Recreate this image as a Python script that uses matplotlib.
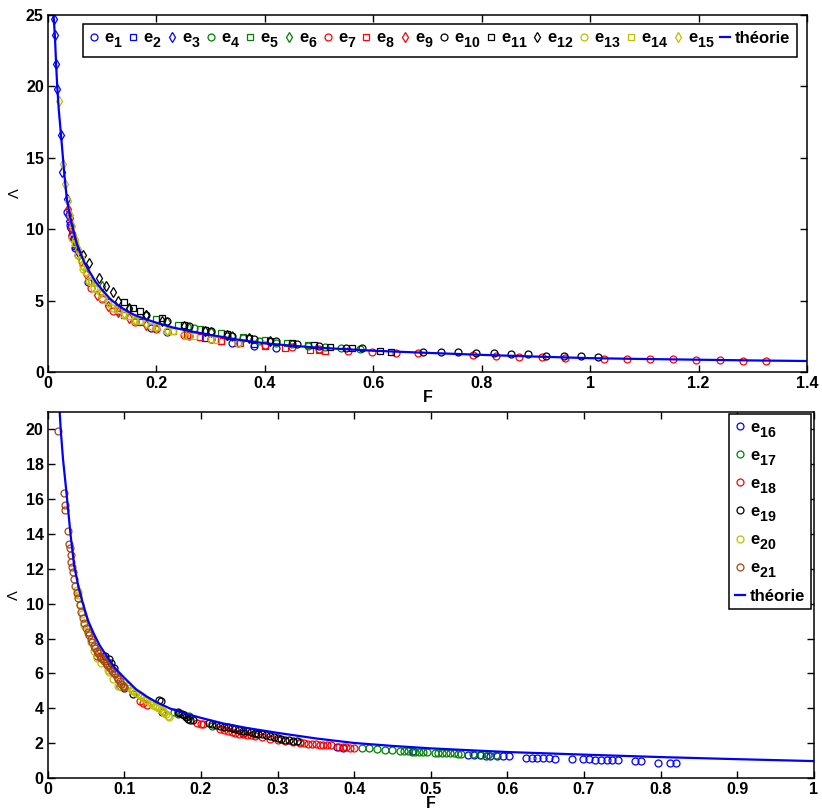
import matplotlib
matplotlib.use("Agg")
import matplotlib.pyplot as plt
import matplotlib._mathtext as mtext

plt.rcParams['font.family'] = ['Liberation Sans', 'DejaVu Sans']
plt.rcParams['mathtext.fontset'] = 'custom'
plt.rcParams['mathtext.bf'] = 'Liberation Sans:bold'
plt.rcParams['mathtext.rm'] = 'Liberation Sans:bold'
plt.rcParams['mathtext.default'] = 'bf'
# subscripts in the original are almost full size and sit lower
mtext.SHRINK_FACTOR = 0.85
mtext.FontConstantsBase.sub1 = 0.6

#%% theory curve
theo_F = [0.0098, 0.0105, 0.013, 0.015, 0.017, 0.02, 0.024, 0.03, 0.0345, 0.04, 0.046, 0.053, 0.06,
          0.068, 0.077, 0.088, 0.1, 0.115, 0.13, 0.142, 0.16, 0.18, 0.2, 0.23, 0.26, 0.3, 0.35, 0.4,
          0.45, 0.5, 0.6, 0.7, 0.8, 0.9, 1.0, 1.1, 1.2, 1.3, 1.4]
theo_L = [26.0, 24.9, 23.3, 21.5, 20.0, 18.3, 16.6, 13.9, 12.2, 11.0, 10.0, 9.0, 8.3,
          7.6, 7.0, 6.3, 5.75, 5.1, 4.65, 4.35, 3.98, 3.7, 3.45, 3.12, 2.87, 2.59, 2.27, 2.01,
          1.84, 1.7, 1.49, 1.34, 1.2, 1.08, 0.97, 0.91, 0.86, 0.81, 0.77]

#%% top panel, e1..e15
e1_F = [0.035, 0.04, 0.045, 0.05, 0.073, 0.1, 0.13, 0.16, 0.19, 0.22, 0.26, 0.3, 0.34, 0.38, 0.42]
e1_L = [11.2, 10.3, 9.5, 8.7, 6.3, 5.2, 4.3, 3.6, 3.1, 2.8, 2.55, 2.3, 2.05, 1.85, 1.7]
e2_F = [0.05, 0.08, 0.11, 0.14, 0.17, 0.2, 0.23, 0.26, 0.29, 0.32, 0.35, 0.38]
e2_L = [8.8, 6.3, 4.9, 4.0, 3.5, 3.1, 2.85, 2.6, 2.4, 2.2, 2.05, 1.95]
e3_F = [0.0105, 0.0129, 0.0148, 0.0172, 0.024, 0.025, 0.0345, 0.036, 0.038, 0.041, 0.044, 0.047, 0.05, 0.055]
e3_L = [24.7, 23.6, 21.6, 19.8, 16.6, 14.0, 12.1, 11.0, 10.6, 10.1, 9.7, 9.3, 8.9, 8.4]
e4_F = [0.27, 0.3, 0.33, 0.36, 0.39, 0.42, 0.45, 0.48, 0.51, 0.54, 0.576]
e4_L = [3.05, 2.8, 2.55, 2.35, 2.2, 2.05, 1.95, 1.85, 1.75, 1.65, 1.58]
e5_F = [0.2, 0.24, 0.28, 0.32, 0.36, 0.4, 0.44, 0.48, 0.5]
e5_L = [3.7, 3.3, 3.0, 2.7, 2.45, 2.25, 2.05, 1.9, 1.55]
e6_F = [0.1, 0.15, 0.18, 0.22, 0.26, 0.3, 0.34]
e6_L = [6.0, 4.4, 4.0, 3.5, 3.1, 2.8, 2.5]
e7_F = [0.045, 0.055, 0.08, 0.1, 0.12, 0.16, 0.2, 0.25, 0.3, 0.35, 0.4, 0.45, 0.5, 0.553, 0.598,
        0.641, 0.683, 0.784, 0.827, 0.868, 0.911, 0.954, 1.026, 1.068, 1.111, 1.153, 1.196, 1.239,
        1.281, 1.324]
e7_L = [9.6, 8.2, 5.9, 5.1, 4.3, 3.5, 3.0, 2.6, 2.3, 2.05, 1.9, 1.75, 1.6, 1.47, 1.42,
        1.31, 1.31, 1.17, 1.15, 1.05, 1.03, 0.98, 0.94, 0.91, 0.89, 0.89, 0.86, 0.82,
        0.79, 0.77]
e8_F = [0.13, 0.17, 0.2, 0.256, 0.28, 0.32, 0.354, 0.4, 0.437, 0.483, 0.51]
e8_L = [4.5, 3.6, 3.1, 2.6, 2.45, 2.2, 2.0, 1.85, 1.66, 1.54, 1.5]
e9_F = [0.037, 0.04, 0.043, 0.05, 0.06, 0.07, 0.09, 0.11, 0.13, 0.15, 0.18]
e9_L = [11.4, 10.8, 10.1, 9.0, 7.8, 6.86, 5.4, 4.6, 4.2, 3.8, 3.3]
e10_F = [0.18, 0.22, 0.26, 0.3, 0.34, 0.38, 0.42, 0.46, 0.5, 0.55, 0.579, 0.691, 0.724, 0.756,
         0.789, 0.822, 0.854, 0.886, 0.918, 0.951, 0.983, 1.015]
e10_L = [4.0, 3.6, 3.2, 2.85, 2.55, 2.3, 2.15, 1.98, 1.82, 1.7, 1.66, 1.42, 1.40, 1.38,
         1.35, 1.31, 1.26, 1.24, 1.14, 1.14, 1.10, 1.03]
e11_F = [0.14, 0.157, 0.17, 0.21, 0.25, 0.29, 0.33, 0.37, 0.41, 0.45, 0.49, 0.52, 0.56, 0.613, 0.632]
e11_L = [4.9, 4.46, 4.3, 3.75, 3.3, 2.95, 2.65, 2.4, 2.2, 2.05, 1.9, 1.78, 1.65, 1.47, 1.42]
e12_F = [0.064, 0.075, 0.094, 0.107, 0.119, 0.13, 0.15, 0.18, 0.21, 0.25, 0.29, 0.33, 0.37, 0.41]
e12_L = [8.2, 7.6, 6.6, 6.0, 5.6, 5.0, 4.5, 4.0, 3.6, 3.2, 2.85, 2.6, 2.35, 2.15]
e13_F = [0.045, 0.055, 0.065, 0.075, 0.085, 0.1, 0.12, 0.14, 0.16, 0.19, 0.22, 0.26, 0.3, 0.35]
e13_L = [9.4, 8.2, 7.2, 6.4, 5.9, 5.2, 4.5, 4.0, 3.6, 3.2, 2.9, 2.55, 2.3, 2.05]
e14_F = [0.05, 0.06, 0.07, 0.08, 0.09, 0.11, 0.13, 0.15, 0.17, 0.2, 0.23, 0.27, 0.31]
e14_L = [9.0, 7.9, 7.0, 6.3, 5.8, 5.0, 4.35, 3.9, 3.55, 3.15, 2.85, 2.5, 2.25]
e15_F = [0.0203, 0.0283, 0.032, 0.036, 0.04, 0.045, 0.05, 0.055, 0.062, 0.07, 0.08, 0.095, 0.11,
         0.125, 0.14, 0.16, 0.18, 0.2, 0.22, 0.25]
e15_L = [19.0, 14.6, 13.2, 12.0, 11.0, 10.2, 9.3, 8.6, 7.5, 7.0, 6.4, 5.5, 4.9,
         4.5, 4.1, 3.7, 3.4, 3.15, 2.95, 2.65]

#%% bottom panel, e16..e21
e16_F = [0.149, 0.255, 0.378, 0.385, 0.477, 0.549, 0.557, 0.564, 0.572, 0.578, 0.586, 0.594, 0.602,
         0.624, 0.632, 0.639, 0.647, 0.654, 0.662, 0.685, 0.699, 0.707, 0.715, 0.722, 0.730,
         0.737, 0.745, 0.767, 0.775, 0.797, 0.812, 0.820]
e16_L = [3.8, 2.6, 1.75, 1.72, 1.53, 1.32, 1.31, 1.30, 1.29, 1.28, 1.27, 1.26, 1.25,
         1.17, 1.16, 1.15, 1.14, 1.12, 1.11, 1.08, 1.07, 1.07, 1.06, 1.06, 1.05,
         1.05, 1.04, 0.98, 0.97, 0.88, 0.86, 0.86]
e17_F = [0.165, 0.17, 0.178, 0.185, 0.215, 0.27, 0.33, 0.41, 0.42, 0.43, 0.44, 0.45, 0.46, 0.465,
         0.47, 0.475, 0.48, 0.485, 0.49, 0.495, 0.505, 0.51, 0.515, 0.52, 0.525, 0.53, 0.535,
         0.54, 0.555, 0.565, 0.575, 0.585]
e17_L = [3.8, 3.7, 3.6, 3.55, 3.0, 2.5, 2.05, 1.74, 1.7, 1.66, 1.62, 1.6, 1.55, 1.54,
         1.53, 1.52, 1.51, 1.5, 1.49, 1.48, 1.46, 1.45, 1.44, 1.43, 1.42, 1.41, 1.4,
         1.39, 1.36, 1.34, 1.32, 1.3]
e18_F = [0.065, 0.12, 0.125, 0.13, 0.195, 0.2, 0.203, 0.225, 0.23, 0.235, 0.24, 0.245, 0.25, 0.255,
         0.26, 0.265, 0.27, 0.28, 0.29, 0.3, 0.31, 0.32, 0.33, 0.335, 0.34, 0.345, 0.35, 0.355,
         0.36, 0.365, 0.37, 0.38, 0.385, 0.39, 0.395, 0.4]
e18_L = [7.0, 4.4, 4.3, 4.2, 3.15, 3.1, 3.1, 2.8, 2.75, 2.7, 2.65, 2.6, 2.55, 2.5,
         2.47, 2.44, 2.4, 2.33, 2.25, 2.18, 2.12, 2.06, 2.0, 1.98, 1.96, 1.95, 1.93, 1.92,
         1.9, 1.9, 1.88, 1.8, 1.77, 1.75, 1.73, 1.72]
e19_F = [0.075, 0.08, 0.083, 0.086, 0.095, 0.1, 0.112, 0.145, 0.148, 0.17, 0.172, 0.175, 0.178,
         0.18, 0.183, 0.186, 0.19, 0.21, 0.215, 0.22, 0.225, 0.23, 0.235, 0.24, 0.245, 0.25,
         0.255, 0.26, 0.265, 0.27, 0.275, 0.28, 0.285, 0.29, 0.295, 0.3, 0.305, 0.31, 0.315,
         0.32, 0.325]
e19_L = [7.0, 6.8, 6.6, 6.3, 5.3, 5.15, 4.8, 4.5, 4.4, 3.8, 3.75, 3.7, 3.6,
         3.5, 3.4, 3.35, 3.3, 3.15, 3.1, 3.05, 3.0, 2.95, 2.9, 2.85, 2.8, 2.75,
         2.72, 2.7, 2.65, 2.6, 2.55, 2.5, 2.45, 2.4, 2.35, 2.3, 2.25, 2.2, 2.18,
         2.15, 2.12]
e20_F = [0.038, 0.039, 0.040, 0.042, 0.045, 0.048, 0.052, 0.056, 0.06, 0.065, 0.07, 0.079, 0.08,
         0.085, 0.092, 0.095, 0.1, 0.103, 0.105, 0.108, 0.11, 0.112, 0.115, 0.118, 0.12, 0.122,
         0.125, 0.128, 0.13, 0.133, 0.135, 0.138, 0.14, 0.143, 0.145, 0.148, 0.15, 0.152,
         0.155, 0.157, 0.159]
e20_L = [10.8, 10.7, 10.5, 10.0, 9.4, 8.8, 8.3, 7.8, 7.3, 6.9, 6.6, 6.2, 6.1,
         5.7, 5.26, 5.3, 5.2, 5.35, 5.25, 5.15, 5.05, 5.0, 4.9, 4.8, 4.75, 4.7,
         4.6, 4.5, 4.45, 4.35, 4.3, 4.2, 4.15, 4.1, 4.0, 3.9, 3.85, 3.75,
         3.65, 3.55, 3.5]
e21_F = [0.0139, 0.0213, 0.0226, 0.023, 0.026, 0.0274, 0.029, 0.030, 0.031, 0.032, 0.0334, 0.0347,
         0.036, 0.038, 0.040, 0.042, 0.044, 0.046, 0.048, 0.050, 0.052, 0.054, 0.056, 0.058,
         0.060, 0.062, 0.064, 0.066, 0.068, 0.070, 0.072, 0.074, 0.076, 0.078, 0.080, 0.082,
         0.084, 0.086, 0.088, 0.090, 0.092, 0.094, 0.096, 0.098, 0.100]
e21_L = [19.9, 16.35, 15.65, 15.35, 14.15, 13.45, 13.2, 12.8, 12.4, 12.1, 11.8, 11.4,
         11.0, 10.6, 10.3, 9.9, 9.5, 9.2, 8.9, 8.6, 8.4, 8.2, 8.0, 7.8,
         7.6, 7.45, 7.3, 7.15, 7.0, 6.9, 6.8, 6.7, 6.6, 6.5, 6.4, 6.3,
         6.15, 6.05, 5.95, 5.8, 5.7, 5.55, 5.4, 5.3, 5.2]

blue = (0, 0, 1)
green = (0, 0.5, 0)
red = (1, 0, 0)
black = (0, 0, 0)
yellow = (0.75, 0.75, 0)
brown = (0.65, 0.27, 0.07)

top_series = [(e1_F, e1_L, blue, 'o'), (e2_F, e2_L, blue, 's'), (e3_F, e3_L, blue, 'd'),
              (e4_F, e4_L, green, 'o'), (e5_F, e5_L, green, 's'), (e6_F, e6_L, green, 'd'),
              (e7_F, e7_L, red, 'o'), (e8_F, e8_L, red, 's'), (e9_F, e9_L, red, 'd'),
              (e10_F, e10_L, black, 'o'), (e11_F, e11_L, black, 's'), (e12_F, e12_L, black, 'd'),
              (e13_F, e13_L, yellow, 'o'), (e14_F, e14_L, yellow, 's'), (e15_F, e15_L, yellow, 'd')]
bot_series = [(e16_F, e16_L, blue), (e17_F, e17_L, green), (e18_F, e18_L, red),
              (e19_F, e19_L, black), (e20_F, e20_L, yellow), (e21_F, e21_L, brown)]

msize = {'o': 5, 's': 4.3, 'd': 5}


def style_axes(ax):
    for s in ax.spines.values():
        s.set_linewidth(1.1)
    ax.tick_params(direction='in', top=True, right=True, length=5, width=1, labelsize=11.5, pad=3)
    for lab in ax.get_xticklabels() + ax.get_yticklabels():
        lab.set_fontweight('bold')
    ax.set_xlabel('F', fontweight='bold', fontsize=11.5, labelpad=-1)
    ax.set_ylabel('Λ', fontsize=10.5, labelpad=3)


fig = plt.figure(figsize=(8.22, 8.11), dpi=100)

#%% top panel
ax1 = fig.add_axes([0.0584, 0.5413, 0.9234, 0.4402])
for i, (x, y, c, m) in enumerate(top_series):
    ax1.plot(x, y, linestyle='none', marker=m, ms=msize[m], mfc='none', mec=c, mew=0.9,
             label='e$_{%d}$' % (i + 1))
ax1.plot(theo_F, theo_L, color=blue, lw=1.6, label='théorie')
ax1.set_xlim(0, 1.4)
ax1.set_ylim(0, 25)
ax1.set_xticks([0, 0.2, 0.4, 0.6, 0.8, 1, 1.2, 1.4])
ax1.set_xticklabels(['0', '0.2', '0.4', '0.6', '0.8', '1', '1.2', '1.4'])
ax1.set_yticks([0, 5, 10, 15, 20, 25])
ax1.set_yticklabels(['0', '5', '10', '15', '20', '25'])
style_axes(ax1)
leg1 = ax1.legend(loc='upper right', bbox_to_anchor=(0.9864, 0.975), ncol=16,
                  prop={'weight': 'bold', 'size': 12}, numpoints=1, handlelength=0.6,
                  handletextpad=0.3, columnspacing=0.3, borderaxespad=0, borderpad=0.4,
                  fancybox=False, framealpha=1, edgecolor='black')
leg1.get_frame().set_linewidth(1.1)

#%% bottom panel
ax2 = fig.add_axes([0.058, 0.0407, 0.932, 0.4513])
for i, (x, y, c) in enumerate(bot_series):
    ax2.plot(x, y, linestyle='none', marker='o', ms=5, mfc='none', mec=c, mew=0.9,
             label='e$_{%d}$' % (i + 16))
ax2.plot(theo_F, theo_L, color=blue, lw=1.6, label='théorie')
ax2.set_xlim(0, 1)
ax2.set_ylim(0, 21)
ax2.set_xticks([0, 0.1, 0.2, 0.3, 0.4, 0.5, 0.6, 0.7, 0.8, 0.9, 1])
ax2.set_xticklabels(['0', '0.1', '0.2', '0.3', '0.4', '0.5', '0.6', '0.7', '0.8', '0.9', '1'])
ax2.set_yticks(list(range(0, 21, 2)))
ax2.set_yticklabels([str(v) for v in range(0, 21, 2)])
style_axes(ax2)
leg2 = ax2.legend(loc='upper right', bbox_to_anchor=(0.996, 0.9937), ncol=1,
                  prop={'weight': 'bold', 'size': 12}, numpoints=1, handlelength=0.6,
                  handletextpad=0.3, labelspacing=0.52, borderaxespad=0, borderpad=0.35,
                  fancybox=False, framealpha=1, edgecolor='black')
leg2.get_frame().set_linewidth(1.1)

fig.savefig('out.png', dpi=100)
